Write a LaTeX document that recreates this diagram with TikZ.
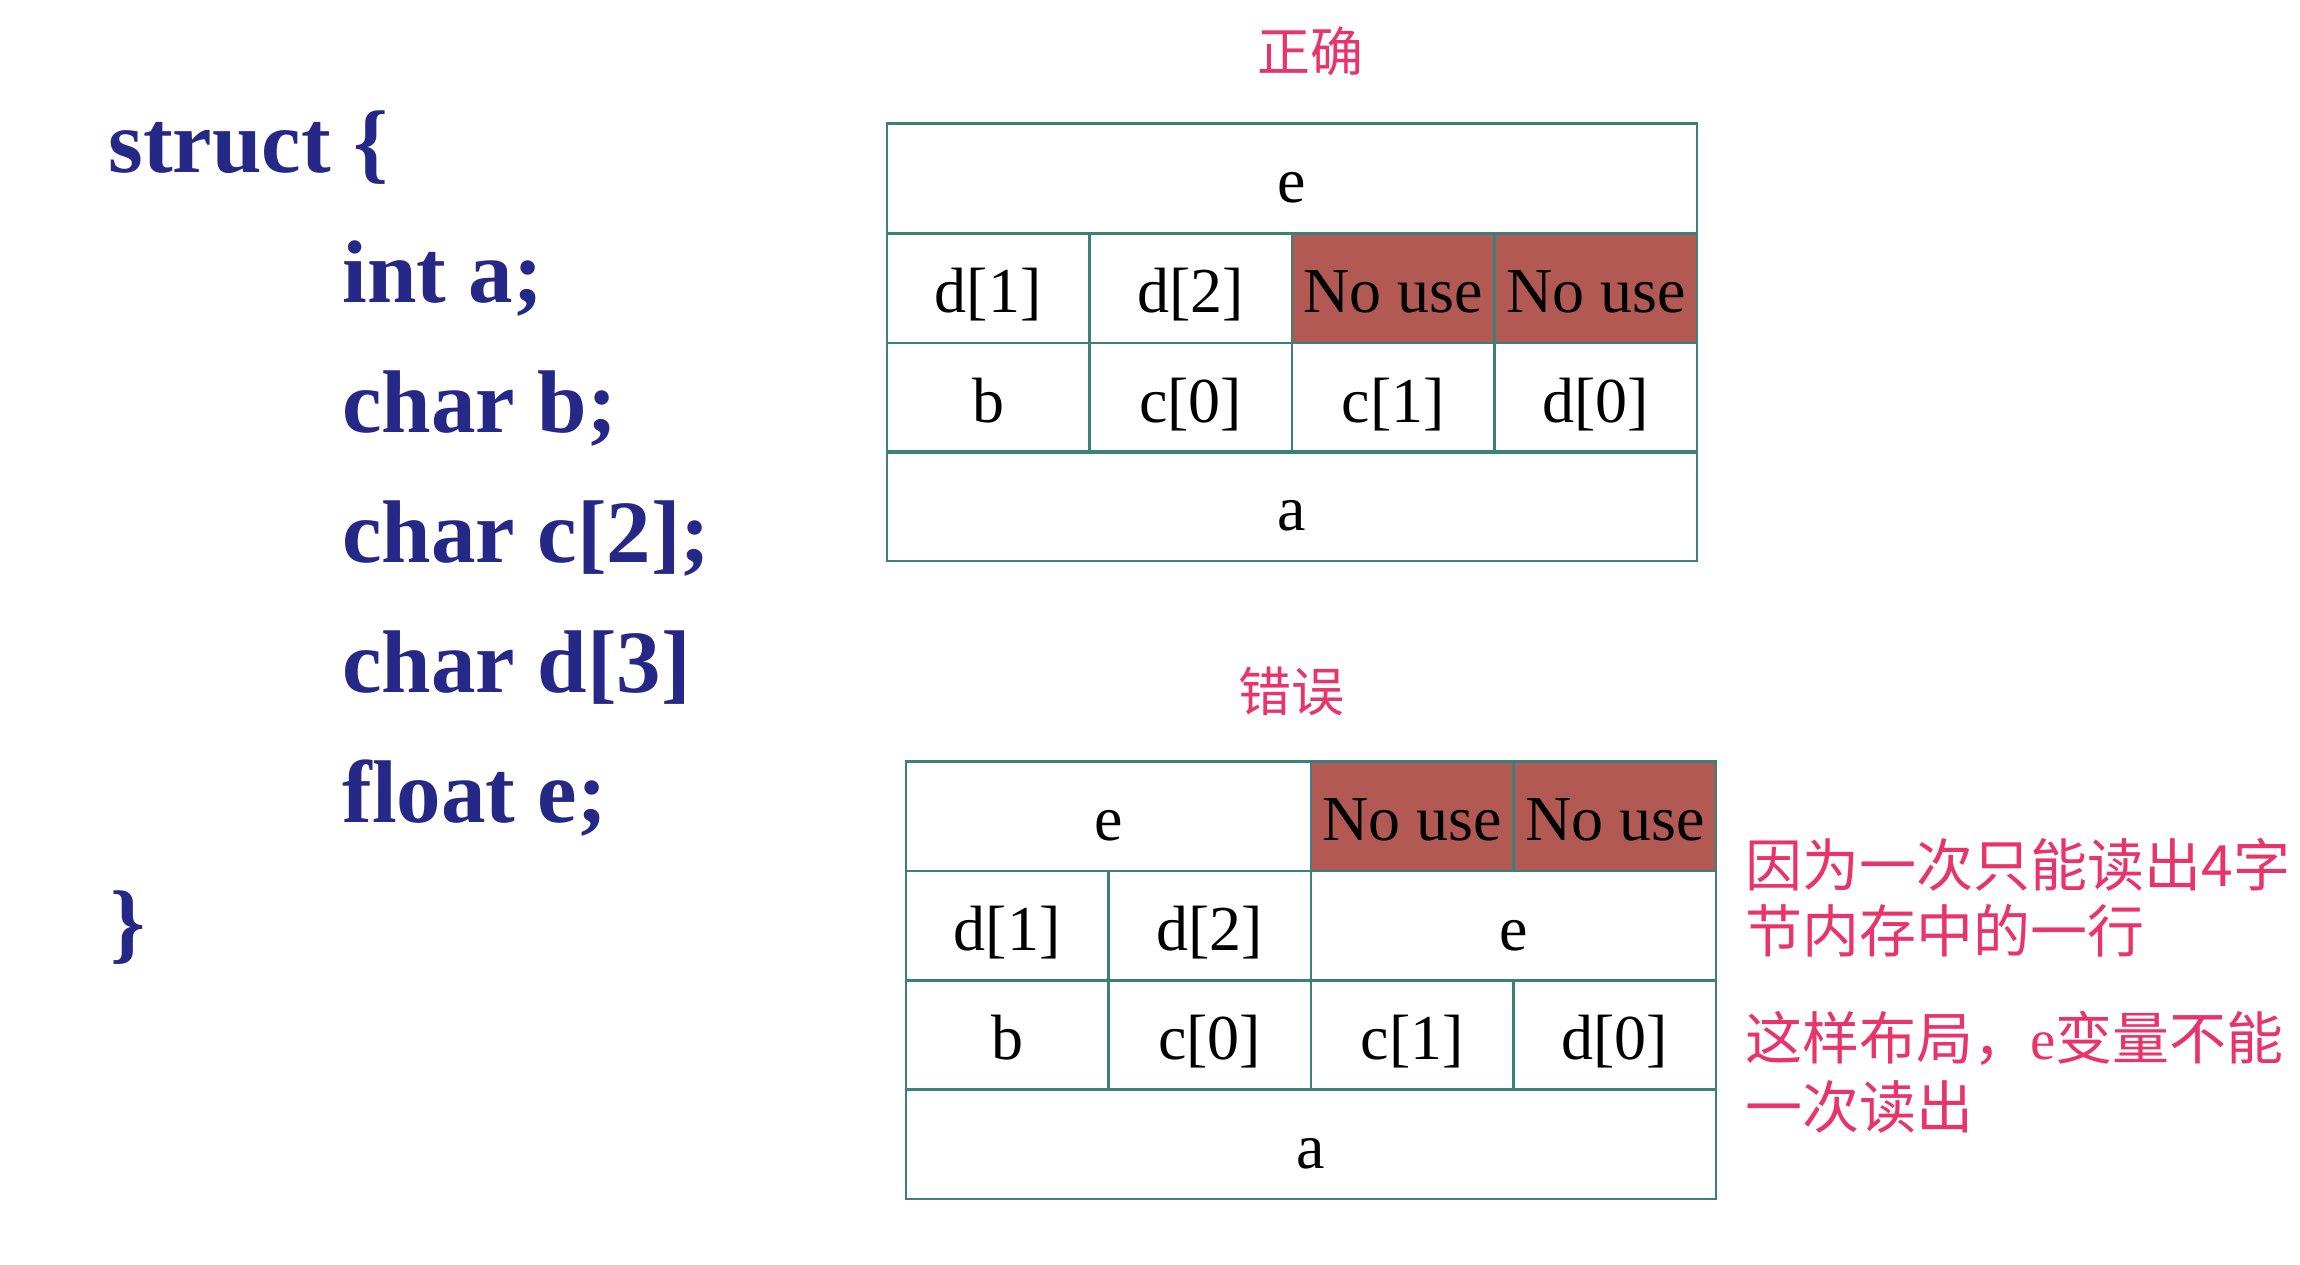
\documentclass[tikz,border=0pt]{standalone}
\usepackage{fontspec}
\setmainfont{Liberation Serif}
\newfontfamily\cjk{Noto Sans CJK SC}
\definecolor{codeblue}{RGB}{38,40,136}
\definecolor{pinkred}{RGB}{232,52,106}
\definecolor{nousefill}{RGB}{177,89,82}
\definecolor{bordercol}{RGB}{60,128,122}
\begin{document}
\begin{tikzpicture}[x=0.5pt,y=-0.5pt,
  cell/.style={draw=bordercol, line width=1.35pt, minimum width=101.25pt, minimum height=54.65pt,
    inner sep=0pt, outer sep=0pt, text height=29pt, text depth=4.5pt,
    font=\fontsize{32}{38}\selectfont},
  cellwide/.style={cell, minimum width=405pt},
  cellhalf/.style={cell, minimum width=202.5pt},
  nouse/.style={cell, fill=nousefill},
  codeline/.style={anchor=base west, inner sep=0pt, text=codeblue, font=\fontsize{44.5}{50}\selectfont\bfseries},
  title/.style={inner sep=0pt, text=pinkred, font=\cjk\fontsize{26.5}{30}\selectfont},
  note/.style={anchor=west, inner sep=0pt, text=pinkred, font=\cjk\fontsize{28.5}{32}\selectfont}
]
\useasboundingbox (0,0) rectangle (2300,1264);
\fill[white] (0,0) rectangle (2300,1264);

% code
\node[codeline] (l0) at (108,172) {struct \{};
\node[codeline] (l1) at (342,302) {int a;};
\node[codeline] (l2) at (342,432) {char b;};
\node[codeline] (l3) at (342,562) {char c[2];};
\node[codeline] (l4) at (342,692) {char d[3]};
\node[codeline] (l5) at (342,822) {float e;};
\node[codeline] (l6) at (110,952) {\}};

% titles
\node[title] (t1) at (1310,51) {正确};
\node[title] (t2) at (1291,691) {错误};

% top table
\node[cellwide] (te) at (1292,178.2) {e};
\node[cell] (td1) at (988.25,288.2) {d[1]};
\node[cell] (td2) at (1190.75,288.2) {d[2]};
\node[nouse] (tn1) at (1393.25,288.2) {No use};
\node[nouse] (tn2) at (1595.75,288.2) {No use};
\node[cell] (tb) at (988.25,397.5) {b};
\node[cell] (tc0) at (1190.75,397.5) {c[0]};
\node[cell] (tc1) at (1393.25,397.5) {c[1]};
\node[cell] (td0) at (1595.75,397.5) {d[0]};
\node[cellwide] (ta) at (1292,506.3) {a};

% bottom table
\node[cellhalf] (be1) at (1108.5,816.3) {e};
\node[nouse] (bn1) at (1412.25,816.3) {No use};
\node[nouse] (bn2) at (1614.75,816.3) {No use};
\node[cell] (bd1) at (1007.25,925.6) {d[1]};
\node[cell] (bd2) at (1209.75,925.6) {d[2]};
\node[cellhalf] (be2) at (1513.5,925.6) {e};
\node[cell] (bb) at (1007.25,1034.9) {b};
\node[cell] (bc0) at (1209.75,1034.9) {c[0]};
\node[cell] (bc1) at (1412.25,1034.9) {c[1]};
\node[cell] (bd0) at (1614.75,1034.9) {d[0]};
\node[cellwide] (ba) at (1311,1144.2) {a};

% notes
\node[note] (n1) at (1745,865) {因为一次只能读出4字};
\node[note] (n2) at (1745,931) {节内存中的一行};
\node[note] (n3) at (1745,1038) {这样布局，{\rmfamily e}变量不能};
\node[note] (n4) at (1745,1107) {一次读出};
\end{tikzpicture}
\end{document}
